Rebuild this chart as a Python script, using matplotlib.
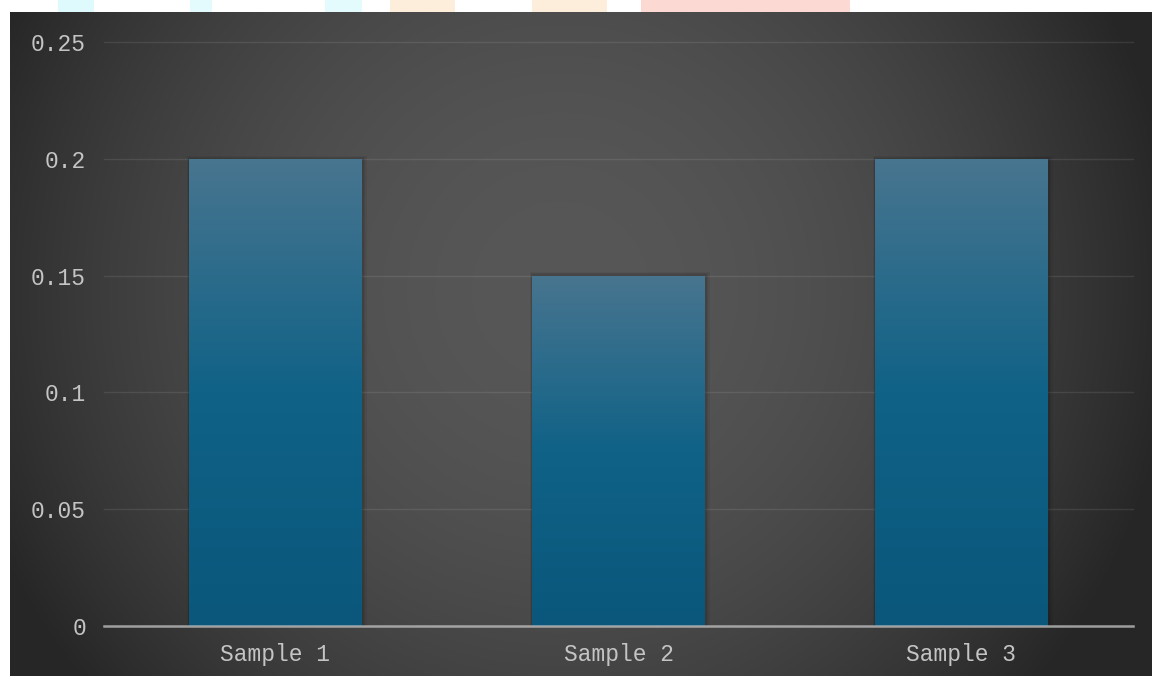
import numpy as np
import matplotlib
matplotlib.use("Agg")
import matplotlib.pyplot as plt
from matplotlib.colors import LinearSegmentedColormap
from matplotlib.patches import Rectangle

categories = ["Sample 1", "Sample 2", "Sample 3"]
values = [0.2, 0.15, 0.2]
y_ticks = [0, 0.05, 0.1, 0.15, 0.2, 0.25]
y_labels = ["0", "0.05", "0.1", "0.15", "0.2", "0.25"]

W, H = 1152, 676
fig = plt.figure(figsize=(W / 100, H / 100), dpi=100)
fig.patch.set_facecolor("white")

# pastel fragments in the top white strip
strip = fig.add_axes([0, 0, 1, 1], zorder=-3)
strip.set_xlim(0, W)
strip.set_ylim(H, 0)
strip.axis("off")
for x0, x1, c in [(58, 94, "#dffafd"), (190, 212, "#e3fbfd"), (325, 362, "#e3fbfd"),
                  (390, 455, "#fdeedb"), (532, 607, "#fdeedb"), (641, 850, "#fdd9d3")]:
    strip.add_patch(Rectangle((x0, 0), x1 - x0, 12, color=c, lw=0))

# dark radial-gradient background
bg = fig.add_axes([10 / W, 0, (W - 10) / W, (H - 12) / H], zorder=-2)
bg.axis("off")
xx, yy = np.meshgrid(np.arange(10, W), np.arange(12, H))
d = np.hypot(xx - 560, yy - 290)
t = np.clip((d / 620) ** 2, 0, 1)
v = (87 - 49 * t) / 255.0
img = np.dstack([v, v, v])
bg.imshow(img, aspect="auto", extent=[0, 1, 0, 1], origin="upper")
bg.set_xlim(0, 1)
bg.set_ylim(0, 1)

ax = fig.add_axes([104 / W, (H - 626) / H, (1133 - 104) / W, 584 / H])
ax.patch.set_alpha(0)
x = np.arange(len(categories))

bars = ax.bar(x, values, width=0.503, color="none", zorder=3)

cmap = LinearSegmentedColormap.from_list(
    "barg", [(0, "#48758f"), (0.5, "#106287"), (1, "#0a577b")])
grad = np.linspace(0, 1, 256).reshape(-1, 1)
for b in bars:
    bx, by = b.get_x(), b.get_y()
    bw, bh = b.get_width(), b.get_height()
    # soft shadow
    for k, a in [(0.014, 0.05), (0.009, 0.07), (0.005, 0.08)]:
        ax.add_patch(Rectangle((bx - k * 0.5, by), bw + k * 1.6, bh + 0.0012 * k / 0.012,
                               color="black", alpha=a, lw=0, zorder=2))
    im = ax.imshow(grad, cmap=cmap, aspect="auto",
                   extent=[bx, bx + bw, by, by + bh], origin="upper", zorder=3)
    im.set_clip_path(b)

ax.set_xlim(-0.5, len(categories) - 0.5)
ax.set_ylim(0, 0.25)

for yt in y_ticks[1:]:
    ax.axhline(yt, color="white", alpha=0.09, lw=1.0, zorder=1, clip_on=False)
ax.axhline(0, color="#bcbcbc", alpha=0.8, lw=1.8, zorder=5, clip_on=False)

for s in ax.spines.values():
    s.set_visible(False)

font = dict(family=["Liberation Mono", "DejaVu Sans Mono"], size=16.5)
ax.set_yticks(y_ticks)
ax.set_yticklabels(y_labels, color="#c4c4c4", **font)
ax.set_xticks(x)
ax.set_xticklabels(categories, color="#c4c4c4", **font)
ax.tick_params(axis="y", length=0, pad=13)
ax.tick_params(axis="x", length=0, pad=12)

fig.savefig("out.png", dpi=100)
